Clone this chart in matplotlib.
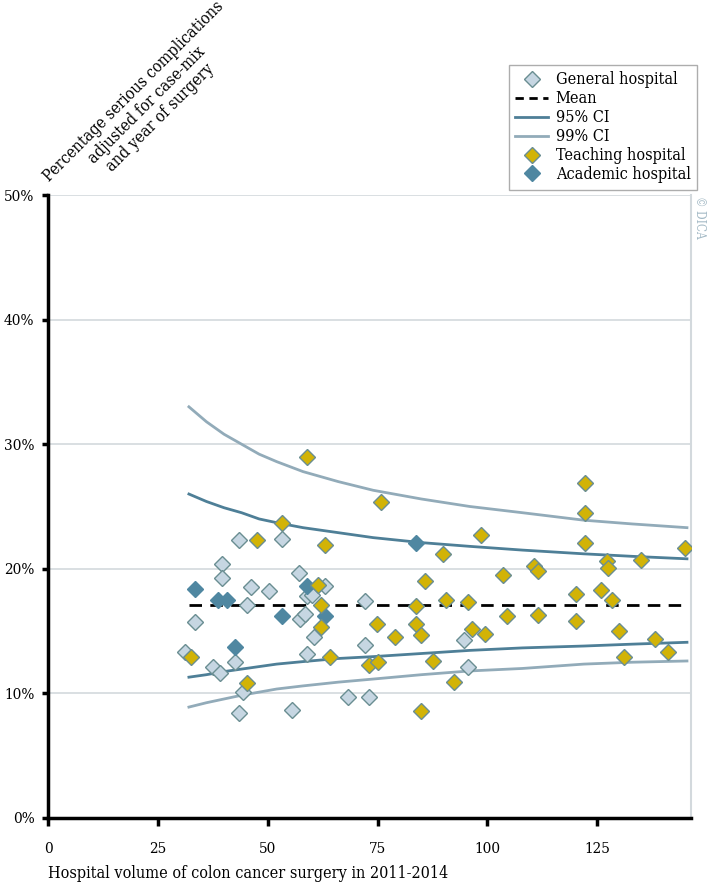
import matplotlib
matplotlib.use("Agg")
import matplotlib.pyplot as plt
from matplotlib.lines import Line2D

# ---------------- data ----------------
general_x = [33.4, 31.1, 37.4, 39.0, 39.5, 39.5, 43.4, 44.3, 43.4, 42.6, 45.3, 46.2,
             50.2, 53.3, 55.5, 57.1, 57.2, 58.5, 58.9, 60.0, 59.0, 60.4, 63.1, 68.2,
             72.2, 72.2, 73.1, 94.8, 95.7]
general_y = [15.7, 13.3, 12.1, 11.6, 20.4, 19.3, 22.3, 10.1, 8.4, 12.5, 17.1, 18.5,
             18.2, 22.4, 8.7, 19.7, 16.0, 16.4, 17.8, 17.9, 13.2, 14.5, 18.6, 9.7,
             17.4, 13.9, 9.7, 14.3, 12.1]

teaching_x = [32.4, 45.3, 47.5, 53.3, 59.0, 61.4, 62.1, 62.1, 62.9, 64.2, 73.1, 74.8,
              75.1, 75.8, 78.9, 83.7, 83.7, 84.9, 84.9, 85.9, 87.6, 89.8, 90.6, 92.5,
              95.6, 96.5, 98.6, 99.5, 103.5, 104.5, 110.6, 111.5, 111.5, 120.3, 120.3,
              122.2, 122.2, 122.2, 126.0, 127.3, 127.4, 128.4, 130.1, 131.1, 135.0,
              138.1, 141.1, 145.0]
teaching_y = [12.9, 10.8, 22.3, 23.7, 29.0, 18.7, 17.1, 15.3, 21.9, 12.9, 12.3, 15.6,
              12.5, 25.4, 14.5, 17.0, 15.6, 14.7, 8.6, 19.0, 12.6, 21.2, 17.5, 10.9,
              17.3, 15.2, 22.7, 14.8, 19.5, 16.2, 20.2, 19.8, 16.3, 18.0, 15.8,
              26.9, 24.5, 22.1, 18.3, 20.6, 20.1, 17.5, 15.0, 12.9, 20.7,
              14.4, 13.3, 21.7]

academic_x = [33.4, 38.6, 40.6, 42.6, 53.3, 58.9, 63.1, 83.8]
academic_y = [18.4, 17.5, 17.5, 13.7, 16.2, 18.6, 16.2, 22.1]

mean_value = 17.1
mean_x = [32, 145.5]

ci_x = [32, 36, 40, 44, 48, 52, 58, 66, 74, 85, 96, 108, 122, 133, 145.5]
ci99_upper = [33.0, 31.8, 30.8, 30.0, 29.2, 28.6, 27.8, 27.0, 26.3, 25.6, 25.0, 24.5, 23.9, 23.6, 23.3]
ci95_upper = [26.0, 25.4, 24.9, 24.5, 24.0, 23.7, 23.3, 22.9, 22.5, 22.1, 21.8, 21.5, 21.2, 21.0, 20.8]
ci95_lower = [11.3, 11.5, 11.75, 11.95, 12.15, 12.35, 12.55, 12.8, 12.95, 13.2, 13.45, 13.65, 13.8, 13.95, 14.1]
ci99_lower = [8.9, 9.25, 9.55, 9.85, 10.1, 10.35, 10.6, 10.9, 11.15, 11.5, 11.8, 12.0, 12.35, 12.5, 12.6]

x_ticks = [0, 25, 50, 75, 100, 125]
y_ticks = [0, 10, 20, 30, 40, 50]
y_ticklabels = ["0%", "10%", "20%", "30%", "40%", "50%"]

# ---------------- style ----------------
plt.rcParams['font.family'] = ['DejaVu Serif', 'DejaVu Sans']
plt.rcParams['font.stretch'] = 'condensed'
FS = 11.6
FS_TICK = 11

c_general = "#c6d6e2"
c_teaching = "#d2b306"
c_academic = "#4f87a1"
c_edge = "#6a8e92"
c_95 = "#4e7f97"
c_99 = "#92abb9"
c_grid = "#d3d9dd"

fig = plt.figure(figsize=(7.08, 8.84), dpi=100)
ax = fig.add_axes([0.0685, 0.0747, 0.908, 0.7047])

ax.set_xlim(0, 146.5)
ax.set_ylim(0, 50)

for yt in y_ticks[1:]:
    ax.axhline(yt, color=c_grid, lw=1.2, zorder=0)

ax.plot(ci_x, ci99_upper, color=c_99, lw=2.0, zorder=2)
ax.plot(ci_x, ci99_lower, color=c_99, lw=2.0, zorder=2)
ax.plot(ci_x, ci95_upper, color=c_95, lw=2.0, zorder=2)
ax.plot(ci_x, ci95_lower, color=c_95, lw=2.0, zorder=2)
ax.plot(mean_x, [mean_value, mean_value], color="black", lw=2.0,
        dashes=(4.5, 3), zorder=2)

ms = 8.3
ax.plot(general_x, general_y, ls="none", marker="D", ms=ms, mfc=c_general,
        mec=c_edge, mew=1.0, zorder=3)
ax.plot(academic_x, academic_y, ls="none", marker="D", ms=ms, mfc=c_academic,
        mec=c_academic, mew=1.0, zorder=4)
ax.plot(teaching_x, teaching_y, ls="none", marker="D", ms=ms, mfc=c_teaching,
        mec=c_edge, mew=1.0, zorder=5)

# spines
ax.spines["top"].set_visible(False)
ax.spines["right"].set_color(c_grid)
ax.spines["right"].set_linewidth(1.5)
ax.spines["left"].set_linewidth(2.5)
ax.spines["bottom"].set_linewidth(2.5)
ax.spines["left"].set_color("black")
ax.spines["bottom"].set_color("black")

ax.set_xticks(x_ticks)
ax.set_xticklabels([str(v) for v in x_ticks], fontsize=FS_TICK)
ax.set_yticks(y_ticks)
ax.set_yticklabels(y_ticklabels, fontsize=FS_TICK)
ax.tick_params(axis="x", direction="out", length=6, width=2.5, pad=11)
ax.tick_params(axis="y", direction="out", length=4, width=2.5, pad=6)

fig.text(48 / 708, 1 - 878 / 884, "Hospital volume of colon cancer surgery in 2011-2014",
         fontsize=FS, ha="left", va="baseline")

fig.text(147 / 708, 1 - 105 / 884,
         "Percentage serious complications\nadjusted for case-mix\nand year of surgery",
         fontsize=FS, rotation=45, rotation_mode="anchor", ha="center", va="center",
         multialignment="center", linespacing=1.12)

fig.text(700 / 708, 1 - 196 / 884, "© DICA", fontsize=8.5, color="#a3b9c5",
         rotation=-90, ha="center", va="top")

handles = [
    Line2D([], [], ls="none", marker="D", ms=ms, mfc=c_general, mec=c_edge, mew=1.0),
    Line2D([], [], color="black", lw=2.0, dashes=(3, 2)),
    Line2D([], [], color=c_95, lw=2.0),
    Line2D([], [], color=c_99, lw=2.0),
    Line2D([], [], ls="none", marker="D", ms=ms, mfc=c_teaching, mec=c_edge, mew=1.0),
    Line2D([], [], ls="none", marker="D", ms=ms, mfc=c_academic, mec=c_academic, mew=1.0),
]
labels = ["General hospital", "Mean", "95% CI", "99% CI", "Teaching hospital", "Academic hospital"]
leg = fig.legend(handles, labels, loc="upper right",
                 bbox_to_anchor=(697 / 708, 1 - 65 / 884), fontsize=FS,
                 frameon=True, fancybox=False, handlelength=2.0, handletextpad=0.5,
                 labelspacing=0.12, borderpad=0.4, borderaxespad=0)
leg.get_frame().set_edgecolor("#999999")
leg.get_frame().set_linewidth(1.0)

fig.savefig("out.png", dpi=100)
